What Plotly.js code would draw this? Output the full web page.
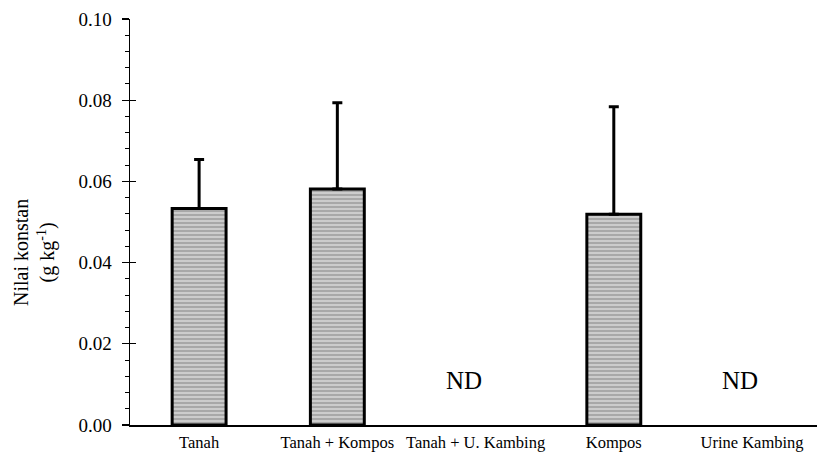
<!DOCTYPE html>
<html>
<head>
<meta charset="utf-8">
<script src="https://cdn.plot.ly/plotly-3.0.1.min.js"></script>
<style>
  html, body { margin: 0; padding: 0; background: #fff; }
  #chart { width: 817px; height: 455px; }
</style>
</head>
<body>
<div id="chart"></div>
<script>
// Treatments on the x axis
const categories = ['Tanah', 'Tanah + Kompos', 'Tanah + U. Kambing', 'Kompos', 'Urine Kambing'];
// Mean constant value (g kg-1); null = not detected
const values = [0.0533, 0.0581, null, 0.0519, null];
// Upper error (standard deviation)
const errors = [0.0121, 0.0213, null, 0.0265, null];
// Treatments with no detection, labelled "ND"
const ndCategories = ['Tanah + U. Kambing', 'Urine Kambing'];
const ndLabel = 'ND';
const ndLevel = 0.011;
// Y axis tick labels
const yTicks = [0, 0.02, 0.04, 0.06, 0.08, 0.10];
const yTickText = ['0.00', '0.02', '0.04', '0.06', '0.08', '0.10'];
const yTitle = 'Nilai konstan<br>(g kg<sup>-1</sup>)';

const serif = '"Liberation Serif", "Times New Roman", Times, serif';

const bars = {
  type: 'bar',
  x: categories,
  y: values,
  width: 0.39,
  marker: {
    color: '#b0b0b0',
    line: { color: '#000', width: 3 },
    pattern: { shape: '-', fgcolor: '#d6d6d6', bgcolor: '#a8a8a8', size: 4, solidity: 0.4, fillmode: 'replace' }
  },
  error_y: {
    type: 'data',
    symmetric: false,
    array: errors,
    arrayminus: errors.map(() => 0),
    color: '#000',
    thickness: 3,
    width: 5
  },
  hoverinfo: 'x+y'
};

const ndAnnotations = ndCategories.map(c => ({
  x: c, y: ndLevel, xref: 'x', yref: 'y',
  xshift: -12,
  text: ndLabel, showarrow: false,
  font: { family: serif, size: 25, color: '#000' }
}));

// Y axis title, set a little below the middle of the axis
const titleAnnotation = {
  x: -0.138, y: 0.424, xref: 'paper', yref: 'paper',
  xanchor: 'center', yanchor: 'middle',
  text: yTitle, textangle: -90, showarrow: false,
  font: { family: serif, size: 20, color: '#000' }
};

const layout = {
  width: 817,
  height: 455,
  margin: { l: 130, r: 0, t: 19, b: 30 },
  paper_bgcolor: '#fff',
  plot_bgcolor: '#fff',
  showlegend: false,
  font: { family: serif, color: '#000' },
  xaxis: {
    type: 'category',
    range: [-0.5, 4.47],
    showgrid: false,
    zeroline: false,
    showline: true,
    linecolor: '#000',
    linewidth: 2,
    ticks: '',
    ticklabelstandoff: 1,
    tickfont: { family: serif, size: 16.5, color: '#000' }
  },
  yaxis: {
    range: [0, 0.10],
    tickvals: yTicks,
    ticktext: yTickText,
    showgrid: false,
    zeroline: false,
    showline: true,
    linecolor: '#000',
    linewidth: 1.5,
    ticks: 'outside',
    ticklen: 7,
    tickwidth: 1.3,
    tickcolor: '#000',
    ticklabelstandoff: 6,
    minor: { dtick: 0.004, ticks: 'outside', ticklen: 4, tickwidth: 1, tickcolor: '#000', showgrid: false },
    tickfont: { family: serif, size: 19, color: '#000' },
    automargin: false
  },
  // Second copy of the y axis so that major ticks also reach inside the plot
  yaxis2: {
    overlaying: 'y',
    side: 'left',
    range: [0, 0.10],
    tickvals: yTicks,
    showticklabels: false,
    showgrid: false,
    zeroline: false,
    showline: false,
    ticks: 'inside',
    ticklen: 6,
    tickwidth: 1.3,
    tickcolor: '#000'
  },
  annotations: [titleAnnotation].concat(ndAnnotations)
};

const ghost = { type: 'scatter', x: [categories[0]], y: [null], yaxis: 'y2', hoverinfo: 'skip', showlegend: false };

Plotly.newPlot('chart', [bars, ghost], layout, { displayModeBar: false, staticPlot: true });
</script>
</body>
</html>
